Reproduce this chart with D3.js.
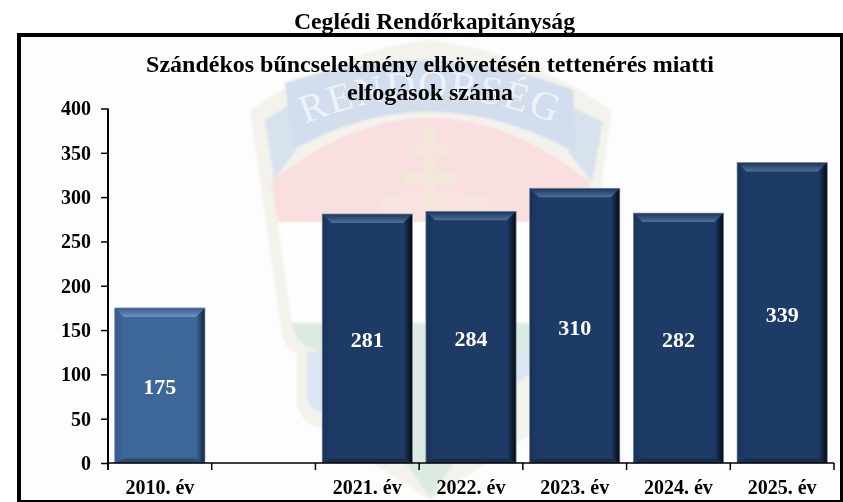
<!DOCTYPE html>
<html>
<head>
<meta charset="utf-8">
<script src="https://cdnjs.cloudflare.com/ajax/libs/d3/7.8.5/d3.min.js"></script>
<style>
  html, body { margin: 0; padding: 0; background: #fff; }
  svg { display: block; filter: blur(0.35px); }
  text { font-family: "Liberation Serif", serif; font-weight: bold; fill: #000; }
</style>
</head>
<body>
<svg width="843" height="502" viewBox="0 0 843 502"></svg>
<script>
const categories = ['2010. év', '', '2021. év', '2022. év', '2023. év', '2024. év', '2025. év']
const values = [175, null, 281, 284, 310, 282, 339]
const yTicks = [0, 50, 100, 150, 200, 250, 300, 350, 400]
const headerText = 'Ceglédi Rendőrkapitányság'
const titleLines = ['Szándékos bűncselekmény elkövetésén tettenérés miatti', 'elfogások száma']

const root = d3.select('svg')
const defs = root.append('defs')

const plotLeft = 108, plotRight = 834, plotTop = 108.5, plotBottom = 463
const bevel = 9

const x = d3.scaleBand().domain(d3.range(categories.length)).range([plotLeft, plotRight]).paddingInner(0.13).paddingOuter(0.065)
const y = d3.scaleLinear().domain([0, 400]).range([plotBottom, plotTop])

// gradients for the bar bevels, one set per bar colour
function gradient(id, x2, y2, stops) {
  const g = defs.append('linearGradient').attr('id', id)
    .attr('x1', 0).attr('y1', 0).attr('x2', x2).attr('y2', y2)
  stops.forEach(s => g.append('stop').attr('offset', s[0]).attr('stop-color', s[1]))
}
const palettes = {
  light: { base: '#3e6799', top: ['#335a8a', '#6f94c6'], right: ['#3e6799', '#12233c'], left: ['#34598a', '#3e6799'], bottom: '#2b4a72' },
  dark: { base: '#1d3b66', top: ['#1a3459', '#4f6f9c'], right: ['#1d3b66', '#05090f'], left: ['#183358', '#1d3b66'], bottom: '#162c4d' }
}
Object.keys(palettes).forEach(k => {
  const p = palettes[k]
  gradient('top-' + k, 0, 1, [[0, p.top[0]], [1, p.top[1]]])
  gradient('right-' + k, 1, 0, [[0, p.right[0]], [1, p.right[1]]])
  gradient('left-' + k, 1, 0, [[0, p.left[0]], [1, p.left[1]]])
})

defs.append('filter').attr('id', 'soft')
  .append('feGaussianBlur').attr('stdDeviation', 1.2)

// faded crest behind the plot
root.append('rect').attr('x', 19).attr('y', 35).attr('width', 823).attr('height', 467).attr('fill', '#fdfdfd')
const crest = root.append('g').attr('class', 'crest').attr('filter', 'url(#soft)')
crest.append('path')
  .attr('d', 'M250,110 Q340,50 430,40 Q520,50 612,110 L581,330 Q575,350 563,353 L563,407 Q555,425 542,427 L430,500 L318,427 Q305,425 297,407 L297,353 Q285,350 281,330 Z')
  .attr('fill', '#f4f2ec')
crest.append('path')
  .attr('d', 'M265,120 L288,106 L296,150 L274,180 Z M603,122 L574,108 L568,152 L592,182 Z')
  .attr('fill', '#d8e2ef')
crest.append('path')
  .attr('d', 'M271,182 Q430,54 590,182 L587,222 L278,222 Z')
  .attr('fill', '#f9dfdf')
crest.append('path')
  .attr('d', 'M278,222 L587,222 L570,323 L292,323 Z')
  .attr('fill', '#fefefe')
crest.append('path')
  .attr('d', 'M292,323 L570,323 Q566,350 535,352 L470,352 L453,465 L430,497 L407,465 L390,352 L325,352 Q296,350 292,323 Z')
  .attr('fill', '#dcebe1')
crest.append('path')
  .attr('d', 'M307,352 L395,352 L395,425 L322,412 Q307,410 307,395 Z M465,352 L532,352 L532,372 L465,425 Z')
  .attr('fill', '#dde6f2')
crest.append('path')
  .attr('d', 'M285,83 Q430,34 573,90 L576,153 Q430,72 293,150 Z')
  .attr('fill', '#d2deed')
crest.append('path')
  .attr('d', 'M380,222 L380,198 L410,192 L450,192 L490,198 L490,222 Z')
  .attr('fill', '#f7e4e0')
crest.append('path')
  .attr('d', 'M425,128 L435,128 L435,146 L448,146 L448,156 L435,156 L435,172 L457,172 L457,184 L435,184 L435,222 L425,222 L425,184 L403,184 L403,172 L425,172 L425,156 L412,156 L412,146 L425,146 Z')
  .attr('fill', '#f3e7dc')
crest.append('path').attr('id', 'banner-arc').attr('d', 'M305,124 Q430,72 556,124').attr('fill', 'none')
root.append('text')
  .attr('font-size', 40)
  .attr('letter-spacing', 2)
  .style('font-weight', 'normal')
  .style('fill', '#eff3f8')
  .append('textPath')
  .attr('href', '#banner-arc')
  .attr('startOffset', '50%')
  .attr('text-anchor', 'middle')
  .text('RENDŐRSÉG')

// frame
root.append('rect')
  .attr('x', 19).attr('y', 35).attr('width', 823).attr('height', 467)
  .attr('fill', 'none').attr('stroke', '#000').attr('stroke-width', 4)

root.append('text')
  .attr('x', 434.5).attr('y', 29)
  .attr('text-anchor', 'middle').attr('font-size', 23.7)
  .text(headerText)

root.selectAll('.title')
  .data(titleLines)
  .enter()
  .append('text')
  .attr('class', 'title')
  .attr('x', 430)
  .attr('y', (d, i) => 72 + i * 27.5)
  .attr('text-anchor', 'middle').attr('font-size', 24)
  .text(d => d)

// bars
const data = values.map((v, i) => ({ i, v })).filter(d => d.v !== null)
const bar = root.selectAll('.bar')
  .data(data)
  .enter()
  .append('g')
  .attr('class', 'bar')

const kind = d => d.i === 0 ? 'light' : 'dark'
const pts = a => a.map(p => p.join(',')).join(' ')

bar.append('rect')
  .attr('x', d => x(d.i))
  .attr('y', d => y(d.v))
  .attr('width', x.bandwidth())
  .attr('height', d => plotBottom - y(d.v))
  .attr('fill', d => palettes[kind(d)].base)

bar.append('polygon')
  .attr('fill', d => `url(#top-${kind(d)})`)
  .attr('points', d => {
    const x0 = x(d.i), x1 = x0 + x.bandwidth(), t = y(d.v)
    return pts([[x0, t], [x1, t], [x1 - bevel, t + bevel], [x0 + bevel, t + bevel]])
  })
bar.append('polygon')
  .attr('fill', d => `url(#right-${kind(d)})`)
  .attr('points', d => {
    const x1 = x(d.i) + x.bandwidth(), t = y(d.v)
    return pts([[x1, t], [x1, plotBottom], [x1 - bevel, plotBottom - bevel / 2], [x1 - bevel, t + bevel]])
  })
bar.append('polygon')
  .attr('fill', d => `url(#left-${kind(d)})`)
  .attr('points', d => {
    const x0 = x(d.i), t = y(d.v)
    return pts([[x0, t], [x0 + bevel, t + bevel], [x0 + bevel, plotBottom - bevel / 2], [x0, plotBottom]])
  })
bar.append('polygon')
  .attr('fill', d => palettes[kind(d)].bottom)
  .attr('points', d => {
    const x0 = x(d.i), x1 = x0 + x.bandwidth()
    return pts([[x0, plotBottom], [x1, plotBottom], [x1 - bevel, plotBottom - bevel / 2], [x0 + bevel, plotBottom - bevel / 2]])
  })
bar.append('rect')
  .attr('x', d => x(d.i))
  .attr('y', d => y(d.v))
  .attr('width', x.bandwidth())
  .attr('height', d => plotBottom - y(d.v))
  .attr('fill', 'none')
  .attr('stroke', '#8d9cb0')
  .attr('stroke-width', 0.7)

bar.append('text')
  .attr('x', d => x(d.i) + x.bandwidth() / 2)
  .attr('y', d => (y(d.v) + plotBottom) / 2 + 9)
  .attr('text-anchor', 'middle')
  .attr('font-size', 22)
  .style('fill', '#fff')
  .text(d => d.v)

// axes
const yAxis = root.append('g')
  .attr('transform', `translate(${plotLeft},0)`)
  .call(d3.axisLeft(y).tickValues(yTicks).tickSize(7).tickPadding(10))
yAxis.selectAll('text').attr('font-size', 20).attr('dy', '0.32em')
yAxis.selectAll('line').attr('stroke', '#000').attr('stroke-width', 1.5)
yAxis.select('.domain').attr('stroke', '#000').attr('stroke-width', 2)
  .attr('d', `M0,${plotTop}V${plotBottom + 7}`)
yAxis.attr('font-family', null).attr('font-size', null)

const xAxis = root.append('g')
  .attr('transform', `translate(0,${plotBottom})`)
  .call(d3.axisBottom(x).tickFormat(i => categories[i]).tickSize(0).tickPadding(17))
xAxis.selectAll('text').attr('font-size', 20)
xAxis.select('.domain').attr('stroke', '#000').attr('stroke-width', 1.5)
  .attr('d', `M${plotLeft},0H${plotRight}`)
xAxis.attr('font-family', null).attr('font-size', null)
xAxis.selectAll('.edge')
  .data(d3.range(1, categories.length + 1))
  .enter()
  .append('line')
  .attr('class', 'edge')
  .attr('x1', d => plotLeft + d * x.step())
  .attr('x2', d => plotLeft + d * x.step())
  .attr('y1', 0).attr('y2', 7)
  .attr('stroke', '#000').attr('stroke-width', 1.5)
</script>
</body>
</html>
